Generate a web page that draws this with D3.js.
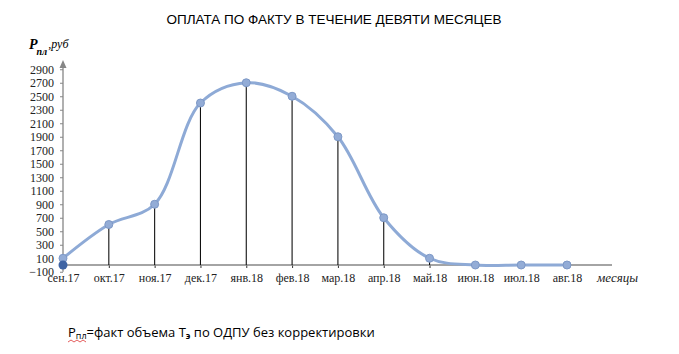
<!DOCTYPE html>
<html>
<head>
<meta charset="utf-8">
<script src="https://cdn.jsdelivr.net/npm/d3@7"></script>
<style>
  body { margin: 0; background: #fff; }
  svg { display: block; }
</style>
</head>
<body>
<svg id="chart"></svg>
<script>
/* DATA */
const months = ["сен.17", "окт.17", "ноя.17", "дек.17", "янв.18", "фев.18",
  "мар.18", "апр.18", "май.18", "июн.18", "июл.18", "авг.18"];
const payments = [100, 600, 900, 2400, 2700, 2500, 1900, 700, 100, 0, 0, 0];
const yTicks = [-100, 100, 300, 500, 700, 900, 1100, 1300, 1500, 1700, 1900, 2100, 2300, 2500, 2700, 2900];
const startMarker = [0]; // dark point on the axis at сен.17

const width = 679, height = 354;

const svg = d3.select("#chart")
  .attr("width", width)
  .attr("height", height);

// scales
const x = d3.scalePoint()
  .domain(months)
  .range([63, 567]);

const y = d3.scaleLinear()
  .domain([0, 2900])
  .range([265, 69.25]);

// title
svg.append("text")
  .attr("x", 334)
  .attr("y", 24)
  .attr("text-anchor", "middle")
  .attr("font-family", "Liberation Sans, Arial, sans-serif")
  .attr("font-size", 13.5)
  .text("ОПЛАТА ПО ФАКТУ В ТЕЧЕНИЕ ДЕВЯТИ МЕСЯЦЕВ");

// y axis label
const yl = svg.append("text")
  .attr("x", 29)
  .attr("y", 49)
  .attr("font-family", "Liberation Serif, Times New Roman, serif")
  .attr("font-style", "italic");
yl.append("tspan").attr("font-weight", "bold").attr("font-size", 14).text("P");
yl.append("tspan").attr("font-weight", "bold").attr("font-size", 10).attr("dy", 6).attr("dx", -1).text("пл");
yl.append("tspan").attr("font-size", 12).attr("dy", -7).attr("dx", 1).text(",руб");

// y axis
const yAxis = d3.axisLeft(y)
  .tickValues(yTicks)
  .tickFormat(d3.format("d"))
  .tickSize(3)
  .tickPadding(6);

const gy = svg.append("g")
  .attr("transform", "translate(63,0)")
  .call(yAxis);
gy.select(".domain").remove();
gy.selectAll(".tick line").attr("stroke", "#868686");
gy.selectAll(".tick text")
  .attr("font-family", "Liberation Serif, Times New Roman, serif")
  .attr("font-size", 12)
  .attr("fill", "#222");

svg.append("line")
  .attr("x1", 63).attr("x2", 63)
  .attr("y1", y(-100)).attr("y2", 66)
  .attr("stroke", "#868686")
  .attr("stroke-width", 1.3);

// arrow head
svg.append("path")
  .attr("d", "M63,60 L59.5,68 L66.5,68 Z")
  .attr("fill", "#868686");

// x axis
const xAxis = d3.axisBottom(x)
  .tickSize(3)
  .tickPadding(5);

const gx = svg.append("g")
  .attr("transform", `translate(0,${y(0)})`)
  .call(xAxis);
gx.select(".domain").remove();
gx.selectAll(".tick line").attr("stroke", "#333");
gx.selectAll(".tick text")
  .attr("font-family", "Liberation Serif, Times New Roman, serif")
  .attr("font-size", 12)
  .attr("fill", "#222");

svg.append("line")
  .attr("x1", 63).attr("x2", 612)
  .attr("y1", y(0)).attr("y2", y(0))
  .attr("stroke", "#868686")
  .attr("stroke-width", 1.3);

svg.append("text")
  .attr("x", 597)
  .attr("y", 282)
  .attr("font-family", "Liberation Serif, Times New Roman, serif")
  .attr("font-style", "italic")
  .attr("font-size", 13)
  .attr("fill", "#222")
  .text("месяцы");

// drop lines
const series = months.map((m, i) => ({ month: m, value: payments[i] }));

svg.append("g")
  .selectAll("line")
  .data(series.filter(d => d.value > 0))
  .join("line")
  .attr("x1", d => x(d.month))
  .attr("x2", d => x(d.month))
  .attr("y1", d => y(d.value))
  .attr("y2", y(0))
  .attr("stroke", "#111")
  .attr("stroke-width", 1.1);

// smooth line
const line = d3.line()
  .x(d => x(d.month))
  .y(d => y(d.value))
  .curve(d3.curveCatmullRom.alpha(0.5));

svg.append("path")
  .datum(series)
  .attr("d", line)
  .attr("fill", "none")
  .attr("stroke", "#8eaad6")
  .attr("stroke-width", 3);

// markers
svg.append("g")
  .selectAll("circle")
  .data(series)
  .join("circle")
  .attr("cx", d => x(d.month))
  .attr("cy", d => y(d.value))
  .attr("r", 4)
  .attr("fill", "#93acd6")
  .attr("stroke", "#7d98c6")
  .attr("stroke-width", 1);

svg.append("g")
  .selectAll("circle")
  .data(startMarker)
  .join("circle")
  .attr("cx", x(months[0]))
  .attr("cy", d => y(d))
  .attr("r", 4.5)
  .attr("fill", "#3f64a4");

// footnote
const fn = svg.append("text")
  .attr("x", 68)
  .attr("y", 337)
  .attr("font-family", "Open Sans, Liberation Sans, sans-serif")
  .attr("font-size", 13);
fn.append("tspan").text("P");
fn.append("tspan").attr("font-size", 9).attr("dy", 2).text("пл");
fn.append("tspan").attr("dy", -2).text("=факт объема Т");
fn.append("tspan").attr("font-size", 9).attr("font-weight", "bold").attr("dy", 2).text("э");
fn.append("tspan").attr("dy", -2).text(" по ОДПУ без корректировки");

// spell-check underline under "Pпл"
svg.append("path")
  .attr("d", d3.range(0, 7).map(i => `${i === 0 ? "M" : "L"}${68 + i * 3},${i % 2 ? 340 : 342}`).join(" "))
  .attr("fill", "none")
  .attr("stroke", "#d33")
  .attr("stroke-width", 0.8);
</script>
</body>
</html>
